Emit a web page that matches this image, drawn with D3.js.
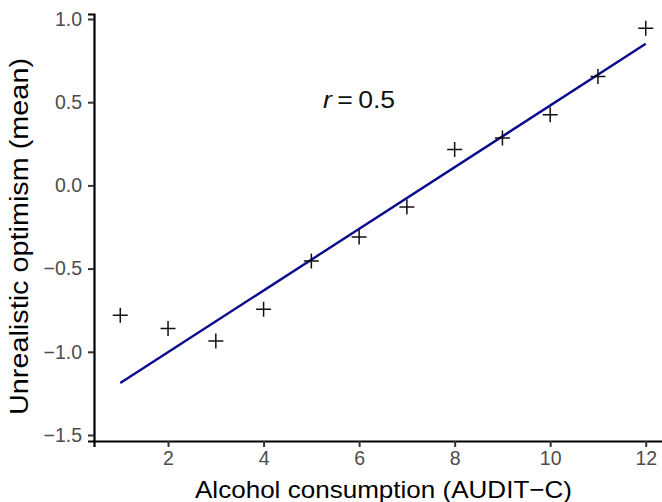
<!DOCTYPE html>
<html>
<head>
<meta charset="utf-8">
<script src="https://cdn.jsdelivr.net/npm/d3@7"></script>
<style>
  body { margin: 0; background: #fff; }
  svg { display: block; font-family: "Liberation Sans", Arial, sans-serif; }
</style>
</head>
<body>
<div id="chart"></div>
<script>
// data
const auditScores = [1, 2, 3, 4, 5, 6, 7, 8, 9, 10, 11, 12];
const optimismMeans = [-0.78, -0.86, -0.935, -0.745, -0.455, -0.31, -0.13, 0.215, 0.285, 0.425, 0.655, 0.945];
const fitIntercept = -1.373;
const fitSlope = 0.1853;
const xTicks = [2, 4, 6, 8, 10, 12];
const yTicks = [-1.5, -1.0, -0.5, 0.0, 0.5, 1.0];
const corrLabel = { r: 'r', value: '\u2009=\u20090.5', x: 5.1, y: 0.5 };

const width = 662, height = 502;
const margin = { top: 14, right: -10, bottom: 61, left: 94 };

const svg = d3.select('#chart').append('svg')
  .attr('width', width)
  .attr('height', height);

const x = d3.scaleLinear()
  .domain([0.45, 12.55])
  .range([margin.left, width - margin.right]);

const y = d3.scaleLinear()
  .domain([-1.536, 1.03])
  .range([height - margin.bottom, margin.top]);

// axes
const xAxis = svg.append('g')
  .attr('transform', `translate(0, ${height - margin.bottom})`)
  .call(d3.axisBottom(x).tickValues(xTicks).tickSize(6).tickPadding(4).tickFormat(d3.format('d')));

const yAxis = svg.append('g')
  .attr('transform', `translate(${margin.left}, 0)`)
  .call(d3.axisLeft(y).tickValues(yTicks).tickSize(6).tickPadding(6).tickFormat(d => d3.format('.1f')(d).replace('-', '\u2212')));

[xAxis, yAxis].forEach(g => {
  g.select('.domain').attr('stroke', '#000').attr('stroke-width', 2.2);
  g.selectAll('.tick line').attr('stroke', '#333').attr('stroke-width', 2);
  g.selectAll('.tick text')
    .attr('fill', '#4d4d4d')
    .style('font-size', '19.5px');
});

// regression line
const xr = d3.extent(auditScores);
svg.append('line')
  .attr('x1', x(xr[0]))
  .attr('y1', y(fitIntercept + fitSlope * xr[0]))
  .attr('x2', x(xr[1]))
  .attr('y2', y(fitIntercept + fitSlope * xr[1]))
  .attr('stroke', '#0a0a8c')
  .attr('stroke-width', 2.4);

// plus markers
const half = 7.5;
svg.append('g')
  .attr('stroke', '#111')
  .attr('stroke-width', 1.5)
  .selectAll('path')
  .data(auditScores.map((d, i) => [d, optimismMeans[i]]))
  .join('path')
  .attr('d', d => {
    const cx = x(d[0]), cy = y(d[1]);
    return `M${cx - half},${cy}H${cx + half}M${cx},${cy - half}V${cy + half}`;
  });

// correlation label
const lbl = svg.append('text')
  .attr('x', x(corrLabel.x) + 7)
  .attr('y', y(corrLabel.y) + 6)
  .attr('fill', '#111')
  .attr('textLength', 72)
  .attr('lengthAdjust', 'spacingAndGlyphs')
  .style('font-size', '23px');
lbl.append('tspan').style('font-style', 'italic').text(corrLabel.r);
lbl.append('tspan').text(corrLabel.value);

// axis titles
svg.append('text')
  .attr('x', 383.5)
  .attr('y', height - 4)
  .attr('text-anchor', 'middle')
  .attr('fill', '#000')
  .attr('textLength', 377)
  .attr('lengthAdjust', 'spacingAndGlyphs')
  .style('font-size', '24.5px')
  .text('Alcohol consumption (AUDIT\u2212C)');

svg.append('text')
  .attr('transform', `translate(28, 236.5) rotate(-90)`)
  .attr('text-anchor', 'middle')
  .attr('fill', '#000')
  .attr('textLength', 357)
  .attr('lengthAdjust', 'spacingAndGlyphs')
  .style('font-size', '25px')
  .text('Unrealistic optimism (mean)');
</script>
</body>
</html>
